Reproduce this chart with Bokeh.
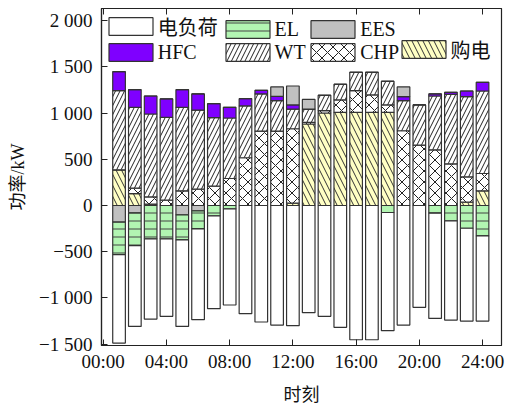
from bokeh.plotting import figure
from bokeh.models import (Range1d, FixedTicker, LinearAxis, Legend, LegendItem,
                          ColumnDataSource)
from bokeh.embed import file_html
from bokeh.resources import INLINE

# ---------------- data ----------------
hours = list(range(1, 25))
load = [957, 875, 867, 838, 936, 982, 1004, 1040, 1170, 1260, 1293, 1300,
        1159, 1199, 1318, 1452, 1452, 1278, 1293, 1101, 1138, 1073, 1004, 921]
el = [350, 354, 361, 361, 271, 195, 112, 36, 0, 0, 0, 0,
      0, 0, 0, 0, 0, 76, 0, 0, 83, 166, 246, 329]
ees_charge = [181, 79, 0, 0, 101, 58, 0, 0, 0, 0, 0, 0,
              0, 0, 0, 0, 0, 0, 0, 0, 0, 0, 0, 0]
buy = [386, 129, 15, 0, 0, 0, 0, 0, 0, 0, 0, 25,
       881, 1000, 1007, 1007, 1007, 1007, 0, 0, 0, 0, 36, 158]
chp = [0, 58, 78, 57, 158, 176, 209, 292, 516, 805, 805, 805,
       17, 25, 134, 235, 188, 80, 808, 653, 602, 451, 274, 188]
wt = [855, 874, 896, 896, 903, 856, 740, 654, 560, 401, 328, 213,
      145, 166, 169, 198, 245, 255, 325, 434, 582, 751, 867, 892]
hfc = [206, 191, 195, 199, 191, 174, 152, 115, 79, 39, 47, 44,
       0, 0, 0, 0, 0, 0, 44, 0, 22, 22, 61, 94]
ees_discharge = [0, 0, 0, 0, 0, 0, 0, 0, 0, 0, 102, 205,
                 104, 0, 0, 0, 0, 0, 105, 0, 0, 0, 0, 0]

series_names = ["电负荷", "EL", "EES", "HFC", "WT", "CHP", "购电"]

y_ticks = [-1500, -1000, -500, 0, 500, 1000, 1500, 2000]
y_tick_labels = ["−1 500", "−1 000", "−500", "0", "500", "1 000", "1 500", "2 000"]
x_ticks = [0, 4, 8, 12, 16, 20, 24]
x_tick_labels = ["00:00", "04:00", "08:00", "12:00", "16:00", "20:00", "24:00"]

# ---------------- source ----------------
src = ColumnDataSource(dict(
    hour=hours,
    buy=buy, chp=chp, wt=wt, hfc=hfc, ees_d=ees_discharge,
    ees_c=[-v for v in ees_charge], el=[-v for v in el], load=[-v for v in load],
))

FONT = "Liberation Serif, Noto Sans CJK SC"
EDGE = "#333333"

p = figure(width=513, height=408, output_backend="svg", toolbar_location=None,
           x_range=Range1d(-0.11, 25.2), y_range=Range1d(-1514, 2130),
           min_border_left=101, min_border_right=12, min_border_top=8,
           min_border_bottom=63)
p.xgrid.visible = False
p.ygrid.visible = False
p.background_fill_color = "white"
p.border_fill_color = "white"
p.outline_line_color = "#222222"
p.outline_line_width = 1.2

W = 0.8
pos = p.vbar_stack(["buy", "chp", "wt", "hfc", "ees_d"], x="hour", width=W, source=src,
                   fill_color=["#ffffc4", "white", "white", "#7f00ff", "#c0c0c0"],
                   hatch_pattern=["left_diagonal_line", "diagonal_cross",
                                  "right_diagonal_line", " ", " "],
                   hatch_color=["#333333", "#222222", "#222222", "#222222", "#222222"],
                   hatch_scale=[11, 11, 9, 8, 8],
                   hatch_weight=[1, 1, 1, 1, 1],
                   line_color=EDGE, line_width=1.2)
neg = p.vbar_stack(["ees_c", "el", "load"], x="hour", width=W, source=src,
                   fill_color=["#c0c0c0", "#b2f5b2", "white"],
                   hatch_pattern=[" ", "horizontal_line", " "],
                   hatch_color=["#222222", "#444444", "#222222"],
                   hatch_scale=[8, 8, 8],
                   hatch_weight=[1, 1, 1],
                   line_color=EDGE, line_width=1.2)
r_buy, r_chp, r_wt, r_hfc, r_ees = pos
r_eesc, r_el, r_load = neg

# ---------------- axes ----------------
xa = p.xaxis[0]
xa.ticker = FixedTicker(ticks=x_ticks)
xa.major_label_overrides = {t: s for t, s in zip(x_ticks, x_tick_labels)}
xa.axis_label = "时刻"
ya = p.yaxis[0]
ya.ticker = FixedTicker(ticks=y_ticks)
ya.major_label_overrides = {t: s for t, s in zip(y_ticks, y_tick_labels)}
ya.axis_label = "功率/kW"
for ax in (xa, ya):
    ax.major_tick_in = 6
    ax.major_tick_out = 0
    ax.minor_tick_line_color = None
    ax.axis_line_color = "#222222"
    ax.axis_line_width = 1.2
    ax.major_tick_line_color = "#222222"
    ax.major_label_text_font = FONT
    ax.major_label_text_font_size = "19px"
    ax.major_label_text_color = "#111111"
    ax.axis_label_text_font = FONT
    ax.axis_label_text_font_size = "18px"
    ax.axis_label_text_font_style = "normal"
    ax.axis_label_text_color = "#111111"
xa.major_label_standoff = 5
xa.axis_label_standoff = 10
ya.major_label_standoff = 9
ya.axis_label_standoff = 8

top = LinearAxis(ticker=FixedTicker(ticks=x_ticks), major_tick_in=6, major_tick_out=0,
                 minor_tick_line_color=None, major_label_text_color=None,
                 major_label_text_font_size="1px",
                 major_label_standoff=0, axis_line_color="#222222", axis_line_width=1.2,
                 major_tick_line_color="#222222")
p.add_layout(top, "above")

# ---------------- legend (4 columns) ----------------
cols = [
    [(series_names[0], r_load), (series_names[3], r_hfc)],
    [(series_names[1], r_el), (series_names[4], r_wt)],
    [(series_names[2], r_ees), (series_names[5], r_chp)],
    [(series_names[6], r_buy)],
]
locs = [(1.8, 281.2), (118.5, 281.2), (204.2, 281.2), (294.5, 281.2)]
for items, loc in zip(cols, locs):
    lg = Legend(items=[LegendItem(label=l, renderers=[r]) for l, r in items],
                location=loc, orientation="vertical",
                glyph_width=55, glyph_height=22, label_height=22, label_width=10,
                spacing=0, padding=0, margin=0, label_standoff=0,
                border_line_alpha=0, background_fill_alpha=0,
                label_text_font=FONT, label_text_font_size="20px",
                label_text_color="#111111")
    p.add_layout(lg)

open("out.html", "w").write(file_html(p, INLINE))
